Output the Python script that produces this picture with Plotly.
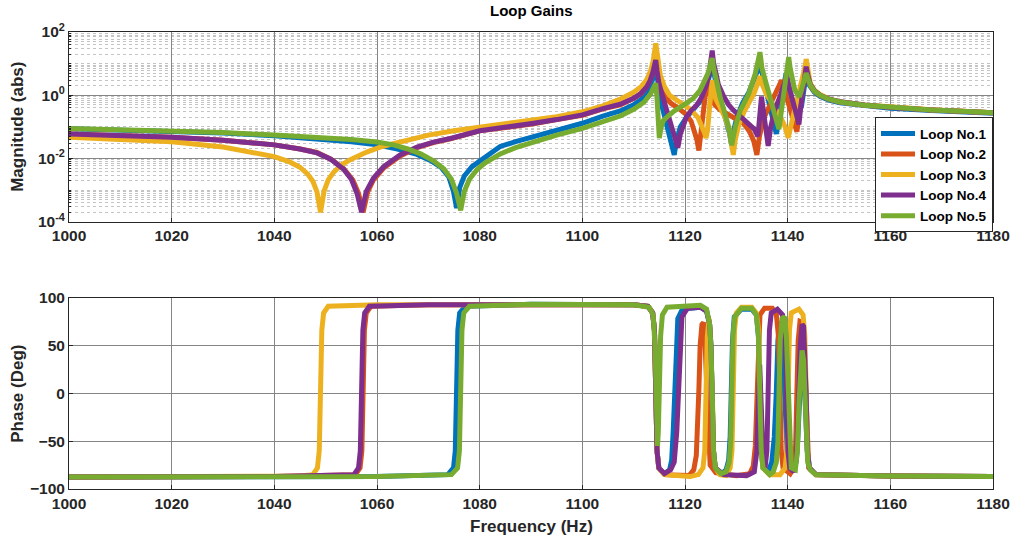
import plotly.graph_objects as go

# ---------------- data ----------------
loop_names = ["Loop No.1", "Loop No.2", "Loop No.3", "Loop No.4", "Loop No.5"]
loop_colors = ["#0072BD", "#D95319", "#EDB120", "#7E2F8E", "#77AC30"]

x_ticks = [1000, 1020, 1040, 1060, 1080, 1100, 1120, 1140, 1160, 1180]
mag_tickvals = [1e-4, 1e-2, 1, 1e2]
mag_ticktext = ["10<sup>-4</sup>", "10<sup>-2</sup>", "10<sup>0</sup>", "10<sup>2</sup>"]
ph_ticks = [-100, -50, 0, 50, 100]

# magnitude (frequency Hz, |G|)
mag_1 = [(1000, 0.087), (1010, 0.080), (1020, 0.073), (1030, 0.064), (1040, 0.052), (1050, 0.040),
         (1055, 0.034), (1060, 0.027), (1064, 0.020), (1067.8, 0.0135), (1070.5, 0.0085), (1072.5, 0.0052),
         (1074, 0.0026), (1074.9, 0.0009), (1075.5, 0.00027), (1076.1, 0.0012), (1077, 0.0028),
         (1078.5, 0.0055), (1080.7, 0.010), (1084, 0.024), (1087, 0.034), (1090.5, 0.049), (1095, 0.08),
         (1100, 0.13), (1104, 0.22), (1107.4, 0.32), (1110, 0.5), (1111.5, 0.75), (1112.6, 1.2),
         (1113.3, 2.0), (1113.8, 3.6), (1114.1, 5.8), (1114.3, 7.6), (1114.5, 4.8), (1114.8, 1.8),
         (1115.2, 0.7), (1115.8, 0.3), (1116.4, 0.13), (1117.0, 0.06), (1117.5, 0.03), (1117.9, 0.013),
         (1118.4, 0.04), (1119.1, 0.1), (1120.3, 0.2), (1121.8, 0.4), (1123.0, 0.65), (1124.0, 1.3),
         (1124.7, 3.2), (1125.0, 6), (1125.3, 11), (1125.6, 5.5), (1126.0, 2.5), (1126.6, 1.0),
         (1127.4, 0.35), (1128.2, 0.12), (1128.7, 0.06), (1129.0, 0.03), (1129.4, 0.07), (1130.2, 0.22),
         (1131.2, 0.55), (1132.4, 1.2), (1133.5, 3.0), (1134.2, 6.5), (1134.6, 10), (1135.0, 5),
         (1135.6, 1.8), (1136.4, 0.5), (1137.2, 0.15), (1137.8, 0.06), (1138.4, 0.2), (1139.0, 1.2),
         (1139.4, 3.0), (1139.7, 5), (1140.0, 2.8), (1140.5, 1.2), (1141.1, 0.5), (1141.7, 0.3),
         (1142.2, 0.27), (1142.7, 0.45), (1143.1, 1.2), (1143.5, 3.5), (1143.8, 2.6), (1144.4, 1.8),
         (1145.2, 1.25), (1146.3, 0.92), (1148, 0.7), (1150.2, 0.58), (1155, 0.46), (1160, 0.39),
         (1168, 0.33), (1174, 0.30), (1180, 0.27)]

mag_2 = [(1000, 0.059), (1010, 0.054), (1020, 0.047), (1030, 0.038), (1040, 0.027), (1045, 0.020),
         (1048.3, 0.0155), (1051, 0.0095), (1053.5, 0.0048), (1055.3, 0.0021), (1056.4, 0.0008),
         (1057.3, 0.0002), (1058.2, 0.0009), (1059.3, 0.0021), (1061.3, 0.0050), (1064.5, 0.012),
         (1067.8, 0.022), (1071, 0.032), (1074.3, 0.042), (1080, 0.075), (1085, 0.095), (1090.5, 0.125),
         (1095, 0.17), (1100, 0.23), (1104, 0.37), (1107.4, 0.5), (1110, 0.8), (1111.5, 1.15),
         (1112.6, 1.9), (1113.3, 3.2), (1113.8, 5.8), (1114.1, 8), (1114.3, 10), (1114.5, 6.5),
         (1114.8, 3.0), (1115.3, 1.5), (1116.2, 0.85), (1117.3, 0.55), (1118.8, 0.38), (1120.2, 0.25),
         (1121.2, 0.15), (1121.9, 0.075), (1122.3, 0.04), (1122.7, 0.018), (1123.1, 0.07), (1123.5, 0.3),
         (1123.9, 1.0), (1124.3, 3.0), (1124.6, 1.6), (1125.1, 0.8), (1125.8, 0.5), (1126.8, 0.35),
         (1128, 0.27), (1129.4, 0.2), (1131.4, 0.13), (1132.6, 0.07), (1133.4, 0.035), (1134.0, 0.013),
         (1134.5, 0.05), (1135.3, 0.18), (1136.3, 0.45), (1137.3, 0.9), (1138.2, 1.8), (1138.8, 3.0),
         (1139.2, 1.8), (1139.8, 0.8), (1140.6, 0.3), (1141.3, 0.13), (1141.8, 0.07), (1142.3, 0.3),
         (1142.9, 1.5), (1143.3, 4), (1143.5, 6), (1143.8, 3.5), (1144.4, 2.0), (1145.2, 1.35),
         (1146.3, 1.0), (1148, 0.75), (1150.2, 0.61), (1155, 0.48), (1160, 0.41), (1168, 0.34),
         (1174, 0.31), (1180, 0.28)]

mag_3 = [(1000, 0.047), (1010, 0.041), (1020, 0.034), (1030, 0.023), (1036, 0.016), (1040, 0.0115),
         (1043, 0.0078), (1045, 0.0053), (1046.5, 0.0032), (1047.5, 0.0019), (1048.3, 0.0009),
         (1049, 0.0002), (1049.7, 0.00095), (1050.5, 0.0021), (1051.5, 0.0036), (1053, 0.0062),
         (1055, 0.0095), (1058, 0.016), (1061, 0.024), (1065, 0.036), (1070, 0.055), (1075, 0.075),
         (1080, 0.097), (1085, 0.12), (1090, 0.155), (1095, 0.21), (1100, 0.30), (1104, 0.46),
         (1107.4, 0.75), (1110, 1.25), (1111.5, 1.9), (1112.5, 3.0), (1113.3, 6.0), (1113.8, 12),
         (1114.1, 26), (1114.3, 44), (1114.5, 26), (1114.8, 11), (1115.2, 4.2), (1116, 1.9), (1117, 1.0),
         (1119, 0.6), (1121, 0.36), (1122.5, 0.2), (1123.3, 0.11), (1123.8, 0.065), (1124.1, 0.044),
         (1124.4, 0.08), (1124.7, 0.3), (1125, 1.2), (1125.3, 3.0), (1125.6, 1.5), (1126, 0.75),
         (1126.8, 0.43), (1127.8, 0.2), (1128.6, 0.08), (1129.1, 0.03), (1129.4, 0.013), (1129.8, 0.04),
         (1130.5, 0.12), (1131.5, 0.3), (1132.5, 0.6), (1133.5, 1.2), (1134.2, 2.5), (1134.6, 4),
         (1135.0, 2.3), (1135.8, 1.1), (1137, 0.55), (1138.5, 0.22), (1139.5, 0.1), (1140.1, 0.045),
         (1140.7, 0.12), (1141.5, 0.4), (1142.3, 1.2), (1143, 3.5), (1143.4, 8), (1143.6, 14),
         (1143.9, 7), (1144.4, 2.4), (1145.2, 1.45), (1146.3, 1.05), (1148, 0.77), (1150.2, 0.62),
         (1155, 0.49), (1160, 0.42), (1168, 0.35), (1174, 0.31), (1180, 0.28)]

mag_4 = [(1000, 0.059), (1010, 0.054), (1020, 0.047), (1030, 0.038), (1040, 0.027), (1045, 0.020),
         (1048.3, 0.015), (1051, 0.0095), (1053.5, 0.0046), (1055.0, 0.0022), (1056.1, 0.0008),
         (1057.0, 0.0002), (1057.9, 0.0009), (1059.3, 0.0024), (1061.3, 0.0055), (1064.5, 0.013),
         (1067.8, 0.023), (1071, 0.033), (1074.3, 0.043), (1080, 0.075), (1085, 0.095), (1090.5, 0.13),
         (1095, 0.17), (1100, 0.24), (1104, 0.38), (1107.4, 0.52), (1110, 0.8), (1111.3, 1.1),
         (1112.5, 1.8), (1113.2, 2.9), (1113.7, 5), (1114.0, 8), (1114.3, 13), (1114.55, 6),
         (1114.9, 2.5), (1115.5, 1.1), (1116.4, 0.34), (1117.4, 0.1), (1118.1, 0.045), (1118.6, 0.022),
         (1119.1, 0.06), (1119.6, 0.11), (1120.3, 0.21), (1121.3, 0.34), (1122.3, 0.49), (1123.3, 0.9),
         (1124.2, 2.2), (1124.7, 5), (1125.0, 11), (1125.3, 26), (1125.55, 11), (1125.9, 5),
         (1126.5, 2.2), (1127.5, 0.95), (1128.5, 0.5), (1129.4, 0.34), (1131, 0.2), (1132.5, 0.13),
         (1133.5, 0.085), (1134.2, 0.05), (1134.6, 0.35), (1134.9, 0.9), (1135.3, 0.3), (1135.8, 0.08),
         (1136.2, 0.025), (1136.7, 0.1), (1137.5, 0.35), (1138.5, 0.9), (1139.3, 2.2), (1139.8, 4),
         (1140.3, 1.8), (1140.9, 0.7), (1141.6, 0.3), (1142.2, 0.12), (1142.6, 0.5), (1143.1, 2.2),
         (1143.4, 5), (1143.6, 8), (1143.9, 4.5), (1144.4, 2.2), (1145.2, 1.4), (1146.3, 1.0),
         (1148, 0.76), (1150.2, 0.62), (1155, 0.49), (1160, 0.41), (1168, 0.34), (1174, 0.31),
         (1180, 0.28)]

mag_5 = [(1000, 0.089), (1010, 0.082), (1020, 0.075), (1030, 0.066), (1040, 0.055), (1050, 0.045),
         (1055, 0.040), (1060, 0.033), (1063.2, 0.027), (1066, 0.020), (1068.5, 0.014), (1071, 0.0085),
         (1073, 0.0047), (1074.5, 0.0022), (1075.5, 0.0008), (1076.3, 0.00023), (1077.0, 0.0009),
         (1078.0, 0.0022), (1079.5, 0.0045), (1081, 0.0072), (1084, 0.014), (1087, 0.022),
         (1090.5, 0.034), (1095, 0.055), (1100, 0.09), (1104, 0.15), (1107.4, 0.22), (1110, 0.36),
         (1112, 0.6), (1113.3, 1.1), (1114.0, 2.0), (1114.3, 2.4), (1114.55, 0.8), (1114.8, 0.15),
         (1115.0, 0.044), (1115.3, 0.09), (1115.8, 0.16), (1116.7, 0.22), (1117.7, 0.30), (1119.7, 0.49),
         (1121.6, 0.79), (1122.9, 1.4), (1123.8, 2.6), (1124.5, 5), (1125.0, 10), (1125.3, 15),
         (1125.6, 7), (1126.2, 2.3), (1126.9, 0.8), (1127.5, 0.38), (1128.5, 0.1), (1129.1, 0.026),
         (1129.8, 0.1), (1130.8, 0.34), (1132.4, 1.1), (1133.7, 4.9), (1134.2, 10), (1134.6, 23),
         (1135.0, 7), (1135.6, 2.9), (1136.6, 0.7), (1137.6, 0.21), (1138.3, 0.085), (1138.8, 0.35),
         (1139.2, 0.9), (1139.8, 5), (1140.2, 16), (1140.5, 7), (1140.8, 3.8), (1141.4, 1.45),
         (1142.3, 0.9), (1142.8, 1.6), (1143.2, 3.0), (1143.6, 5), (1144.0, 3.2), (1144.4, 2.1),
         (1145.2, 1.35), (1146.3, 1.0), (1148, 0.75), (1150.2, 0.61), (1155, 0.48), (1160, 0.41),
         (1168, 0.34), (1174, 0.31), (1180, 0.28)]

# phase (frequency Hz, degrees)
ph_1 = [(1000, -87.5), (1060, -87), (1073.8, -85), (1074.9, -78), (1075.25, -60), (1075.5, 3),
        (1075.75, 66), (1076.1, 84), (1077.2, 91), (1090, 93), (1110, 92.5), (1112.8, 91), (1113.7, 84),
        (1114.05, 66), (1114.3, 3), (1114.55, -60), (1114.9, -78), (1116, -84), (1117.0, -80),
        (1117.4, -70), (1117.7, -40), (1117.95, 3), (1118.2, 50), (1118.6, 78), (1119.5, 88), (1123, 90),
        (1124.2, 86), (1124.8, 72), (1125.05, 50), (1125.3, 3), (1125.55, -60), (1125.9, -78),
        (1127.2, -84), (1128.0, -80), (1128.5, -70), (1128.8, -45), (1129.0, 3), (1129.25, 55),
        (1129.6, 80), (1131, 88), (1133, 88), (1133.9, 82), (1134.3, 60), (1134.6, 3), (1134.85, -60),
        (1135.2, -78), (1136.2, -82), (1136.9, -72), (1137.4, -45), (1137.8, 3), (1138.1, 55),
        (1138.5, 75), (1138.8, 70), (1139.1, 40), (1139.4, 0), (1139.65, -55), (1140.0, -75),
        (1141.0, -82), (1141.7, -70), (1142.0, -45), (1142.3, -5), (1142.6, 25), (1142.9, 35),
        (1143.2, 20), (1143.5, -20), (1143.8, -60), (1144.3, -78), (1145.5, -85), (1160, -86.5),
        (1180, -87)]

ph_2 = [(1000, -87.5), (1040, -87), (1055.8, -85), (1056.7, -78), (1057.05, -60), (1057.3, 3),
        (1057.55, 66), (1057.9, 84), (1058.8, 91), (1070, 92.5), (1100, 93), (1110, 92.5), (1112.8, 91),
        (1113.7, 84), (1114.05, 66), (1114.3, 3), (1114.55, -60), (1114.9, -78), (1116, -85),
        (1120.8, -86), (1121.7, -80), (1122.2, -65), (1122.45, -40), (1122.7, 3), (1122.95, 50),
        (1123.3, 72), (1123.6, 74), (1123.9, 55), (1124.1, 25), (1124.3, -10), (1124.55, -55),
        (1124.9, -75), (1126, -83), (1130, -86), (1132.6, -84), (1133.3, -76), (1133.7, -55),
        (1134.0, 3), (1134.25, 60), (1134.6, 82), (1135.5, 89), (1137, 89), (1137.8, 82), (1138.2, 60),
        (1138.5, 3), (1138.75, -60), (1139.1, -78), (1140.5, -84), (1141.2, -78), (1141.55, -55),
        (1141.8, 3), (1142.05, 55), (1142.4, 75), (1142.8, 74), (1143.2, 50), (1143.5, 0),
        (1143.75, -60), (1144.1, -78), (1145.5, -85), (1160, -86.5), (1180, -87)]

ph_3 = [(1000, -87.5), (1030, -87.3), (1045, -86.5), (1047.5, -85), (1048.4, -78), (1048.75, -60),
        (1049, 3), (1049.25, 66), (1049.6, 84), (1050.5, 91), (1060, 92.5), (1100, 93), (1110, 92.5),
        (1112.8, 91), (1113.7, 84), (1114.05, 66), (1114.3, 3), (1114.55, -60), (1114.9, -78),
        (1116, -85), (1121, -87), (1122.6, -85), (1123.5, -78), (1123.85, -60), (1124.1, 3),
        (1124.35, 60), (1124.7, 78), (1124.95, 60), (1125.3, 3), (1125.55, -60), (1125.9, -78),
        (1126.8, -85), (1128, -86), (1128.8, -78), (1129.15, -60), (1129.4, 3), (1129.65, 66),
        (1130, 84), (1131, 90), (1133, 90), (1133.9, 84), (1134.35, 66), (1134.6, 3), (1134.85, -60),
        (1135.2, -78), (1136.5, -85), (1138.5, -85), (1139.5, -78), (1139.85, -60), (1140.1, 3),
        (1140.35, 66), (1140.7, 84), (1142.2, 88), (1143.0, 82), (1143.35, 60), (1143.6, 3),
        (1143.85, -60), (1144.2, -78), (1145.5, -85), (1160, -86.5), (1180, -87)]

ph_4 = [(1000, -87.5), (1040, -87), (1055.5, -85), (1056.4, -78), (1056.75, -60), (1057, 3),
        (1057.25, 66), (1057.6, 84), (1058.5, 91), (1070, 92.5), (1100, 93), (1110, 92.5), (1112.8, 91),
        (1113.7, 84), (1114.05, 66), (1114.3, 3), (1114.55, -60), (1114.9, -78), (1116, -84),
        (1117.2, -80), (1117.9, -72), (1118.4, -40), (1118.7, 3), (1119.0, 55), (1119.4, 80),
        (1120.5, 89), (1123, 90), (1124.2, 86), (1124.8, 72), (1125.05, 50), (1125.3, 3), (1125.55, -60),
        (1125.9, -78), (1127.5, -85), (1132, -86), (1133.5, -82), (1134.0, -60), (1134.2, -20),
        (1134.55, 30), (1134.9, -20), (1135.2, -65), (1135.6, -78), (1135.95, -60), (1136.2, 3),
        (1136.45, 66), (1136.8, 84), (1138, 88), (1139.0, 82), (1139.45, 60), (1139.8, 3),
        (1140.05, -60), (1140.4, -78), (1141.2, -82), (1141.7, -70), (1142.0, -40), (1142.2, 3),
        (1142.45, 50), (1142.8, 72), (1143.1, 70), (1143.35, 45), (1143.6, 0), (1143.85, -60),
        (1144.2, -78), (1145.5, -85), (1160, -86.5), (1180, -87)]

ph_5 = [(1000, -87.5), (1060, -87), (1074.5, -85), (1075.7, -78), (1076.05, -60), (1076.3, 3),
        (1076.55, 66), (1076.9, 84), (1078, 91), (1090, 93), (1110, 92.5), (1113.0, 90), (1113.8, 82),
        (1114.15, 50), (1114.3, 20), (1114.5, -40), (1114.65, -55), (1114.8, -40), (1115.0, 10),
        (1115.25, 60), (1115.6, 82), (1116.5, 90), (1123, 92), (1124.2, 88), (1124.8, 72),
        (1125.05, 50), (1125.3, 3), (1125.55, -60), (1125.9, -78), (1127, -84), (1128.0, -82),
        (1128.6, -72), (1128.9, -50), (1129.1, 3), (1129.35, 60), (1129.7, 80), (1131, 89), (1133, 89),
        (1133.9, 82), (1134.3, 60), (1134.6, 3), (1134.85, -60), (1135.2, -78), (1136.5, -85),
        (1137.2, -82), (1137.8, -72), (1138.1, -50), (1138.3, 3), (1138.55, 55), (1138.9, 78),
        (1139.4, 80), (1139.75, 60), (1140.1, 3), (1140.35, -60), (1140.7, -78), (1141.5, -80),
        (1141.9, -60), (1142.2, -10), (1142.5, 30), (1142.8, 45), (1143.1, 35), (1143.35, 0),
        (1143.6, -50), (1143.9, -72), (1144.4, -80), (1145.5, -85), (1160, -86.5), (1180, -87)]

mag_data = [mag_1, mag_2, mag_3, mag_4, mag_5]
ph_data = [ph_1, ph_2, ph_3, ph_4, ph_5]

# ---------------- figure ----------------
FONT = "Liberation Sans"
TXT = "#262626"
fig = go.Figure()

for name, color, mag in zip(loop_names, loop_colors, mag_data):
    fig.add_trace(go.Scatter(x=[p[0] for p in mag], y=[p[1] for p in mag], mode="lines",
                             name=name, line=dict(color=color, width=5),
                             xaxis="x", yaxis="y", legendgroup=name))
for name, color, ph in zip(loop_names, loop_colors, ph_data):
    fig.add_trace(go.Scatter(x=[p[0] for p in ph], y=[p[1] for p in ph], mode="lines",
                             name=name, line=dict(color=color, width=5), showlegend=False,
                             xaxis="x2", yaxis="y2", legendgroup=name))

tick_font = dict(family=FONT, size=15.5, color=TXT, weight="bold")
title_font = dict(family=FONT, size=17, color=TXT, weight="bold")
major_grid = "#858585"

common_x = dict(range=[1000, 1180], tickvals=x_ticks, showgrid=True, gridcolor=major_grid,
                gridwidth=1, showline=True, linecolor=TXT, linewidth=1, mirror=True,
                ticks="inside", ticklen=4, tickcolor=TXT, tickfont=tick_font, zeroline=False,
                automargin=False)

PLOT_TOP, PLOT_H = 31.7, 457.6

fig.update_layout(
    width=1012, height=542,
    paper_bgcolor="white", plot_bgcolor="white",
    margin=dict(l=69, r=19, t=32, b=53, autoexpand=False),
    xaxis=dict(**common_x, anchor="y", domain=[0, 1]),
    xaxis2=dict(**common_x, anchor="y2", domain=[0, 1]),
    yaxis=dict(type="log", range=[-4, 2], domain=[0.5848, 1], anchor="x",
               tickmode="array", tickvals=mag_tickvals, ticktext=mag_ticktext,
               tickfont=tick_font, showgrid=True, gridcolor=major_grid, gridwidth=1,
               showline=True, linecolor=TXT, linewidth=1, mirror=True,
               ticks="inside", ticklen=4, tickcolor=TXT, zeroline=False, automargin=False,
               minor=dict(dtick="D1", showgrid=True, gridcolor="#c4c4c4", griddash="dot",
                          gridwidth=1, ticks="inside", ticklen=2, tickcolor=TXT)),
    yaxis2=dict(range=[-100, 100], domain=[0, 0.4187], anchor="x2",
                tickvals=ph_ticks, tickfont=tick_font, showgrid=True, gridcolor=major_grid,
                gridwidth=1, showline=True, linecolor=TXT, linewidth=1, mirror=True,
                ticks="inside", ticklen=4, tickcolor=TXT, zeroline=False, automargin=False),
    legend=dict(x=1.0, xanchor="right", y=0.8136, yanchor="top", bgcolor="white",
                bordercolor="#262626", borderwidth=1,
                font=dict(family=FONT, size=13.5, color="#000000", weight="bold"),
                tracegroupgap=0, itemwidth=34),
    showlegend=True,
    annotations=[
        dict(text="Loop Gains", xref="paper", yref="paper", x=0.5, y=1 + (PLOT_TOP - 10) / PLOT_H,
             xanchor="center", yanchor="middle", showarrow=False,
             font=dict(family=FONT, size=15, color="#000000", weight="bold")),
        dict(text="Magnitude (abs)", xref="paper", yref="paper", x=-0.0552, y=0.7924,
             xanchor="center", yanchor="middle", textangle=-90, showarrow=False, font=title_font),
        dict(text="Phase (Deg)", xref="paper", yref="paper", x=-0.0552, y=0.2083,
             xanchor="center", yanchor="middle", textangle=-90, showarrow=False, font=title_font),
        dict(text="Frequency (Hz)", xref="paper", yref="paper", x=0.5, y=-0.0824,
             xanchor="center", yanchor="middle", showarrow=False, font=title_font),
    ],
)

# remove the browser's default 8px page margin so the figure fills the window exactly
fig.write_html("out.html", config={"displayModeBar": False},
               post_script="document.body.style.margin='0';document.body.style.overflow='hidden';")
